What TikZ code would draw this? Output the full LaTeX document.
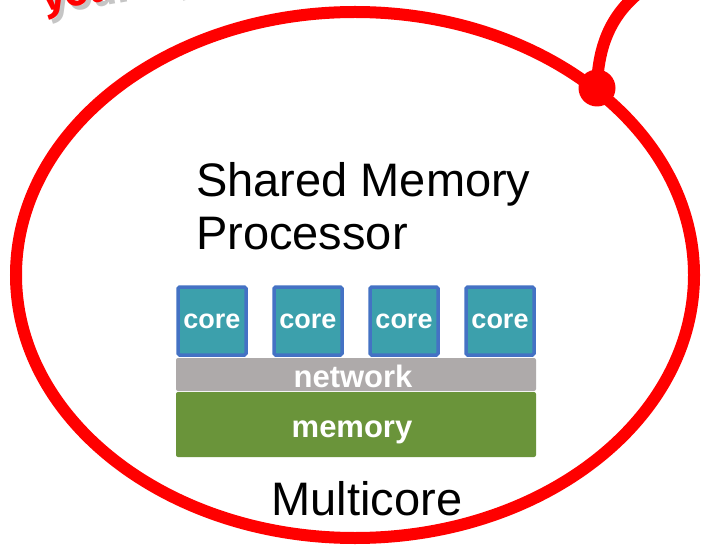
\documentclass[tikz,border=0pt]{standalone}
\usepackage{fontspec}
\setmainfont{Liberation Sans}
\newfontfamily\handfont{Fira Sans}
\definecolor{ringred}{HTML}{FF0000}
\definecolor{coreteal}{HTML}{3CA0AC}
\definecolor{coreblue}{HTML}{4472C4}
\definecolor{netgray}{HTML}{AEAAAA}
\definecolor{memgreen}{HTML}{6A943A}
\tikzset{
  corebox/.style={draw=coreblue, line width=3.5pt, fill=coreteal, rounded corners=1.5pt,
    minimum width=68pt, minimum height=68pt, inner sep=0pt,
    text=white, font=\bfseries\fontsize{27}{30}\selectfont},
  bar/.style={rounded corners=2pt, inner sep=0pt},
  bartext/.style={inner sep=0pt, text=white, font=\bfseries\fontsize{31}{34}\selectfont, anchor=base},
  label/.style={inner sep=0pt, text=black, font=\fontsize{47}{53}\selectfont},
  capfont/.style={font=\handfont\bfseries\fontsize{42}{46}\selectfont, rotate=10, anchor=base west},
  ring/.style={draw=ringred, line width=12pt},
}
\begin{document}
\begin{tikzpicture}[x=1pt, y=-1pt]
\useasboundingbox (0,0) rectangle (701,545);
\clip (0,0) rectangle (701,545);
\fill[white] (0,0) rectangle (701,545);

% callout caption, mostly outside the frame
\node[capfont, text=black!45, opacity=0.5] (capshadow) at (46,16) {your laptop};
\node[capfont, text=ringred] (cap) at (42,12) {your laptop};

% the callout ring and its pointer
\draw[ring] (355,275) ellipse [x radius=339, y radius=263];
\coordinate (tail) at (645,-12);
\node[circle, fill=ringred, minimum size=37pt, inner sep=0pt] (dot) at (597,88) {};
\draw[draw=ringred, line width=12pt] (dot.center) .. controls (598,40) and (615,10) .. (tail);

% title (base anchor sits on the last line)
\node[label, anchor=base west, align=left] (title) at (196,250) {Shared Memory\\Processor};

% cores
\node[corebox] (c1) at (212,321) {core};
\node[corebox] (c2) at (308,321) {core};
\node[corebox] (c3) at (404,321) {core};
\node[corebox] (c4) at (500,321) {core};

% interconnect and memory
\node[bar, fill=netgray, minimum width=360pt, minimum height=33pt] (net) at (356,374.5) {};
\node[bartext] (nettext) at (353,387) {network};
\node[bar, fill=memgreen, minimum width=360pt, minimum height=65pt] (mem) at (356,424.5) {};
\node[bartext] (memtext) at (352,437) {memory};

\node[label, anchor=base] (mc) at (367,515) {Multicore};
\end{tikzpicture}
\end{document}
